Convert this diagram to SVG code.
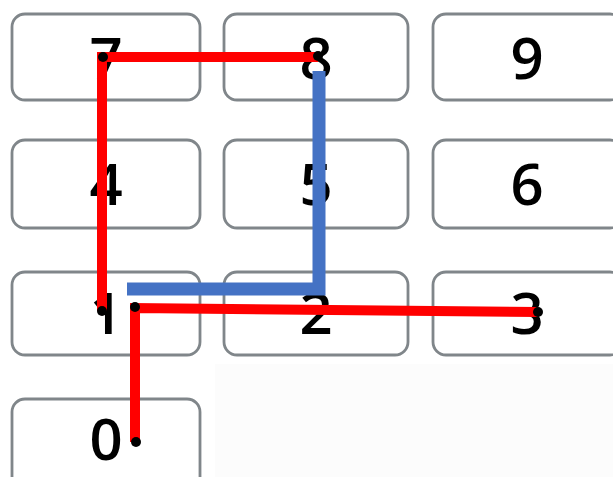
<svg xmlns="http://www.w3.org/2000/svg" width="613" height="477" viewBox="0 0 613 477">
<defs>
<style>
.key{fill:#ffffff;stroke:#80868a;stroke-width:2.8}
.lbl{font-family:"Open Sans","Noto Sans",sans-serif;font-size:58px;font-weight:600;fill:#000000;text-anchor:middle}
.red{fill:none;stroke:#ff0000;stroke-width:10;stroke-linejoin:miter;stroke-linecap:butt}
.blue{fill:none;stroke:#4472c4;stroke-width:13;stroke-linejoin:miter;stroke-linecap:butt}
.dot{fill:#000000}
</style>
</defs>
<rect x="0" y="0" width="613" height="477" fill="#ffffff"/>
<rect x="215" y="364" width="398" height="113" fill="#fcfcfc"/>
<g id="key7"><rect class="key" x="12" y="14" width="188" height="86" rx="13"/><text class="lbl" x="106" y="79">7</text></g>
<g id="key8"><rect class="key" x="224" y="14" width="184" height="86" rx="13"/><text class="lbl" x="316" y="79">8</text></g>
<g id="key9"><rect class="key" x="433" y="14" width="190" height="86" rx="13"/><text class="lbl" x="527" y="79">9</text></g>
<g id="key4"><rect class="key" x="12" y="140" width="188" height="88" rx="13"/><text class="lbl" x="106" y="205">4</text></g>
<g id="key5"><rect class="key" x="224" y="140" width="184" height="88" rx="13"/><text class="lbl" x="316" y="205">5</text></g>
<g id="key6"><rect class="key" x="433" y="140" width="190" height="88" rx="13"/><text class="lbl" x="527" y="205">6</text></g>
<g id="key1"><rect class="key" x="12" y="272" width="188" height="83" rx="13"/><text class="lbl" x="106" y="334">1</text></g>
<g id="key2"><rect class="key" x="224" y="272" width="184" height="83" rx="13"/><text class="lbl" x="316" y="334">2</text></g>
<g id="key3"><rect class="key" x="433" y="272" width="190" height="83" rx="13"/><text class="lbl" x="527" y="334">3</text></g>
<g id="key0"><rect class="key" x="12" y="399" width="188" height="95" rx="13"/><text class="lbl" x="106" y="460">0</text></g>
<g id="connectors">
<polyline class="red" points="318,57 102,57 102,311"/>
<polyline class="red" points="135,442 135,308 538,312"/>
<polyline class="blue" points="319,71 319,289 127,289"/>
<circle class="dot" cx="103" cy="57" r="5"/>
<circle class="dot" cx="318" cy="56" r="5"/>
<circle class="dot" cx="102" cy="311" r="5"/>
<circle class="dot" cx="135" cy="307" r="5"/>
<circle class="dot" cx="538" cy="312" r="5"/>
<circle class="dot" cx="136" cy="442" r="5"/>
</g>
</svg>
